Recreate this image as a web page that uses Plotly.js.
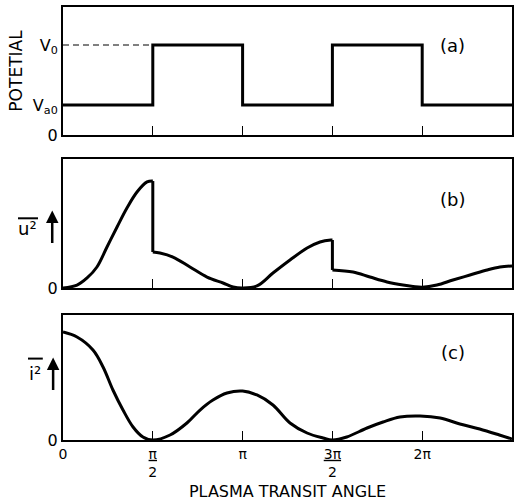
<!DOCTYPE html>
<html>
<head>
<meta charset="utf-8">
<script src="https://cdn.plot.ly/plotly-3.0.1.min.js"></script>
<style>html,body{margin:0;padding:0;background:#fff;}#chart{width:521px;height:501px;}</style>
</head>
<body>
<div id="chart"></div>
<script>
// x values are in units of pi (0 .. 5/2)
const tickVals = [0, 0.5, 1, 1.5, 2, 2.5];
const tickText = ['0', '<u>π</u><br>2', 'π', '<u>3π</u><br>2', '2π', '<u>5π</u><br>2'];

// (a) potential square wave
const potLevels = {Va0: 0.234, V0: 0.703};
const potX = [0, 0.5, 1, 1.5, 2, 2.5];
const potY = [0.234, 0.703, 0.234, 0.703, 0.234, 0.234];
const dashX = [0, 0.5];
const dashY = [0.703, 0.703];

// (b) mean square velocity: three pieces separated by the jumps
const uX1 = [0, 0.078, 0.134, 0.189, 0.245, 0.301, 0.356, 0.412, 0.468, 0.5];
const uY1 = [0, 0.023, 0.078, 0.163, 0.318, 0.473, 0.620, 0.744, 0.822, 0.829];
const uX2 = [0.5, 0.54, 0.612, 0.707, 0.802, 0.891, 0.947, 1.0, 1.08, 1.169, 1.264, 1.359, 1.431, 1.492, 1.5];
const uY2 = [0.279, 0.271, 0.240, 0.163, 0.085, 0.039, 0.008, 0.0, 0.016, 0.116, 0.217, 0.310, 0.357, 0.372, 0.372];
const uX3 = [1.5, 1.615, 1.709, 1.804, 1.893, 1.949, 2.0, 2.082, 2.171, 2.266, 2.361, 2.433, 2.5];
const uY3 = [0.140, 0.124, 0.085, 0.047, 0.023, 0.012, 0.006, 0.023, 0.062, 0.101, 0.140, 0.163, 0.171];
// vertical jumps
const jumpX = [0.5, 0.5, null, 1.5, 1.5];
const jumpY = [0.829, 0.279, null, 0.372, 0.140];

// (c) mean square current
const iX = [0, 0.078, 0.167, 0.223, 0.278, 0.334, 0.39, 0.445, 0.5,
            0.596, 0.69, 0.763, 0.835, 0.913, 1.0, 1.08, 1.169, 1.264, 1.359, 1.448, 1.5,
            1.58, 1.693, 1.782, 1.876, 1.988, 2.1, 2.21, 2.32, 2.43, 2.5];
const iY = [0.864, 0.824, 0.72, 0.584, 0.40, 0.24, 0.104, 0.024, 0,
            0.04, 0.136, 0.24, 0.32, 0.376, 0.392, 0.36, 0.28, 0.136, 0.056, 0.016, 0,
            0.024, 0.096, 0.144, 0.184, 0.192, 0.176, 0.128, 0.088, 0.04, 0.008];

const FONT = 'DejaVu Sans, Arial, sans-serif';
const curve = {color: '#000', width: 3, shape: 'spline', smoothing: 1};

function tr(x, y, xa, ya, line) {
  return {x: x, y: y, mode: 'lines', line: line, xaxis: xa, yaxis: ya, hoverinfo: 'skip'};
}

const traces = [
  tr(potX, potY, 'x3', 'y3', {color: '#000', width: 3, shape: 'hv'}),
  tr(dashX, dashY, 'x3', 'y3', {color: '#000', width: 1, dash: '6px,4px'}),
  tr(uX1, uY1, 'x2', 'y2', curve),
  tr(uX2, uY2, 'x2', 'y2', curve),
  tr(uX3, uY3, 'x2', 'y2', curve),
  tr(jumpX, jumpY, 'x2', 'y2', {color: '#000', width: 3}),
  tr(iX, iY, 'x', 'y', curve)
];

function xax(anchor, showLabels) {
  return {
    anchor: anchor, range: [0, 2.5], tickvals: tickVals, ticktext: tickText,
    showticklabels: showLabels, ticks: 'inside', ticklen: 9, tickwidth: 1, tickcolor: '#000',
    showline: true, linewidth: 2, linecolor: '#000', mirror: true, showgrid: false, zeroline: false,
    tickfont: {family: FONT, size: 14, color: '#000'}
  };
}
function yax(anchor, domain, vals, text) {
  return {
    anchor: anchor, domain: domain, range: [0, 1], tickvals: vals, ticktext: text,
    ticks: '', showline: true, linewidth: 2, linecolor: '#000', mirror: true, showgrid: false, zeroline: false,
    tickfont: {family: FONT, size: 16, color: '#000'}
  };
}

const layout = {
  width: 521, height: 501,
  margin: {l: 63, r: 9, t: 7, b: 61},
  paper_bgcolor: '#fff', plot_bgcolor: '#fff',
  showlegend: false,
  font: {family: FONT, color: '#000'},
  xaxis: Object.assign(xax('y', true), {title: {text: 'PLASMA TRANSIT ANGLE', font: {family: FONT, size: 16, color: '#000'}, standoff: 14}}),
  xaxis2: xax('y2', false),
  xaxis3: xax('y3', false),
  yaxis: yax('x', [0, 0.2887], [0], ['0']),
  yaxis2: yax('x2', [0.351, 0.649], [0], ['0']),
  yaxis3: Object.assign(yax('x3', [0.7044, 1], [0, potLevels.Va0, potLevels.V0], ['0', 'V<sub>a0</sub>', 'V<sub>0</sub>']),
    {title: {text: 'POTETIAL', font: {family: FONT, size: 17, color: '#000'}, standoff: 6}}),
  annotations: [
    {xref: 'x3 domain', yref: 'y3 domain', x: 0.9, y: 0.8, text: '(a)', showarrow: false, font: {family: FONT, size: 18, color: '#000'}},
    {xref: 'x2 domain', yref: 'y2 domain', x: 0.9, y: 0.78, text: '(b)', showarrow: false, font: {family: FONT, size: 18, color: '#000'}},
    {xref: 'x domain', yref: 'y domain', x: 0.9, y: 0.8, text: '(c)', showarrow: false, font: {family: FONT, size: 18, color: '#000'}},
    {xref: 'paper', yref: 'y2 domain', x: -0.104, xanchor: 'left', y: 0.46, text: 'u²', showarrow: false, font: {family: FONT, size: 18, color: '#000'}},
    {xref: 'paper', yref: 'y2 domain', x: -0.024, y: 0.6, ax: 0, ay: 34, text: '', showarrow: true, arrowhead: 2, arrowsize: 1, arrowwidth: 2.5, arrowcolor: '#000'},
    {xref: 'paper', yref: 'y domain', x: -0.08, xanchor: 'left', y: 0.53, text: 'i²', showarrow: false, font: {family: FONT, size: 18, color: '#000'}},
    {xref: 'paper', yref: 'y domain', x: -0.022, y: 0.66, ax: 0, ay: 34, text: '', showarrow: true, arrowhead: 2, arrowsize: 1, arrowwidth: 2.5, arrowcolor: '#000'}
  ],
  shapes: [
    {type: 'line', xref: 'paper', yref: 'paper', x0: -0.1002, x1: -0.0557, y0: 0.512, y1: 0.512, line: {color: '#000', width: 2}},
    {type: 'line', xref: 'paper', yref: 'paper', x0: -0.078, x1: -0.045, y0: 0.188, y1: 0.188, line: {color: '#000', width: 2}}
  ]
};

Plotly.newPlot('chart', traces, layout, {staticPlot: true, displayModeBar: false});
</script>
</body>
</html>
